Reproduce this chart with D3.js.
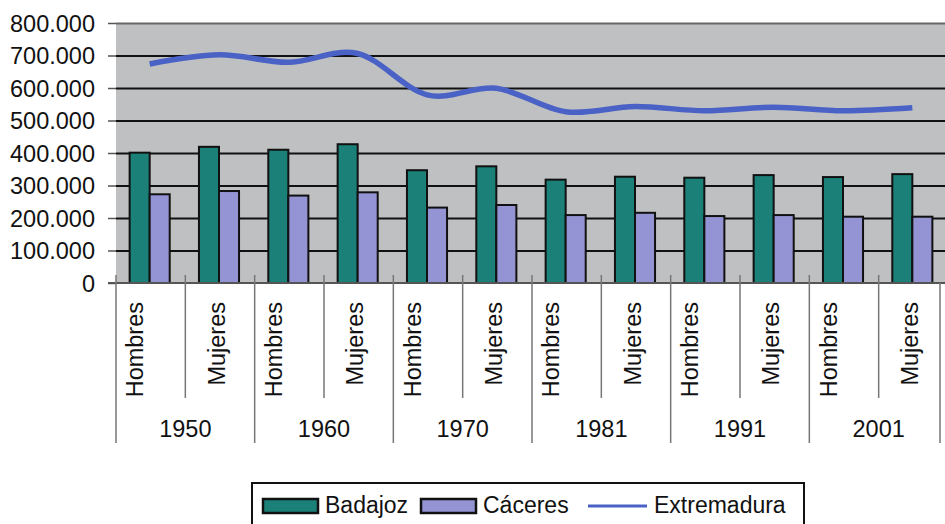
<!DOCTYPE html>
<html>
<head>
<meta charset="utf-8">
<script src="https://cdn.jsdelivr.net/npm/d3@7"></script>
<style>
  html, body { margin: 0; padding: 0; background: #ffffff; }
  svg { display: block; font-family: "Liberation Sans", Arial, sans-serif; }
</style>
</head>
<body>
<svg id="chart" width="945" height="524"></svg>
<script>
// ---- data ----
const years = ["1950", "1960", "1970", "1981", "1991", "2001"];
const sexes = ["Hombres", "Mujeres"];
const seriesNames = ["Badajoz", "Cáceres", "Extremadura"];
const badajoz = [401000, 419000, 410000, 427000, 347000, 359000, 318000, 327000, 324000, 332000, 326000, 335000];
const caceres = [273000, 283000, 269000, 279000, 232000, 240000, 209000, 216000, 206000, 209000, 204000, 204000];
const extremadura = [674000, 702000, 679000, 706000, 579000, 599000, 527000, 543000, 530000, 541000, 530000, 539000];
const yTicks = [0, 100000, 200000, 300000, 400000, 500000, 600000, 700000, 800000];

// ---- layout ----
const svg = d3.select("#chart");
const pLeft = 116, pRight = 948, pTop = 23, pBottom = 283;
const colors = { Badajoz: "#1b8078", "Cáceres": "#9494d4", Extremadura: "#4a62c6" };
const fs = 23.5;

const cats = [];
years.forEach(yr => sexes.forEach(s => cats.push({ year: yr, sex: s })));
const idx = d3.range(cats.length);

const x = d3.scaleBand().domain(idx).range([pLeft, pRight]).paddingInner(0).paddingOuter(0);
const xYear = d3.scaleBand().domain(years).range([pLeft, pRight]);
const y = d3.scaleLinear().domain([0, 800000]).range([pBottom, pTop]);
const xs = d3.scaleBand().domain(["Badajoz", "Cáceres"]).range([0, x.bandwidth()]).paddingInner(0).paddingOuter(0.73);

const loc = d3.formatLocale({ decimal: ",", thousands: ".", grouping: [3], currency: ["", ""] });
const fmt = loc.format(",");

// plot background
svg.append("rect").attr("x", pLeft).attr("y", pTop).attr("width", pRight - pLeft).attr("height", pBottom - pTop)
  .attr("fill", "#bfc0c2");

// gridlines
const grid = svg.append("g").attr("transform", `translate(${pLeft},0)`)
  .call(d3.axisLeft(y).tickValues(yTicks.filter(v => v > 0)).tickSize(-(pRight - pLeft)).tickFormat(""));
grid.select(".domain").remove();
grid.selectAll("line").attr("stroke", d => d === 800000 ? "#666" : "#111").attr("stroke-width", 2);

// y axis labels + ticks
const yAxis = svg.append("g").attr("transform", `translate(${pLeft},0)`)
  .call(d3.axisLeft(y).tickValues(yTicks).tickSize(8).tickPadding(13).tickFormat(fmt));
yAxis.select(".domain").remove();
yAxis.selectAll("line").attr("stroke", "#555").attr("stroke-width", 1.5);
yAxis.selectAll("text").attr("font-size", fs).attr("fill", "#111").attr("dy", "0.35em")
  .attr("font-family", "Liberation Sans, Arial, sans-serif");

// bars
const barData = [];
idx.forEach(i => {
  barData.push({ i, s: "Badajoz", v: badajoz[i] });
  barData.push({ i, s: "Cáceres", v: caceres[i] });
});
svg.append("g").selectAll("rect").data(barData).join("rect")
  .attr("x", d => x(d.i) + xs(d.s) - 1)
  .attr("y", d => y(d.v))
  .attr("width", xs.bandwidth())
  .attr("height", d => y(0) - y(d.v))
  .attr("fill", d => colors[d.s])
  .attr("stroke", "#111").attr("stroke-width", 2);

// line
const line = d3.line()
  .x((d, i) => x(i) + x.bandwidth() / 2 - 1)
  .y(d => y(d))
  .curve(d3.curveCatmullRom.alpha(0));
svg.append("path").datum(extremadura).attr("d", line)
  .attr("fill", "none").attr("stroke", colors.Extremadura).attr("stroke-width", 5.5)
  .attr("stroke-linecap", "butt");

// x axis line
svg.append("line").attr("x1", pLeft - 8).attr("x2", pRight).attr("y1", pBottom).attr("y2", pBottom)
  .attr("stroke", "#555").attr("stroke-width", 2);

// category separators
const sepG = svg.append("g").attr("stroke", "#777").attr("stroke-width", 1.5);
idx.forEach(i => {
  const xx = x(i);
  const isYear = i % 2 === 0;
  sepG.append("line").attr("x1", xx).attr("x2", xx)
    .attr("y1", pBottom - 8).attr("y2", isYear ? 443 : 398);
});
sepG.append("line").attr("x1", pRight - 8).attr("x2", pRight - 8).attr("y1", pBottom).attr("y2", 443);

// rotated category labels
svg.append("g").selectAll("text").data(idx).join("text")
  .attr("transform", i => {
    const c = x(i) + x.bandwidth() / 2;
    const bx = cats[i].sex === "Hombres" ? c - 7.5 : c + 4.5;
    return `translate(${bx},302) rotate(-90)`;
  })
  .attr("text-anchor", "end")
  .attr("font-size", fs).attr("fill", "#111")
  .text(i => cats[i].sex);

// year labels
svg.append("g").selectAll("text").data(years).join("text")
  .attr("x", d => xYear(d) + xYear.bandwidth() / 2)
  .attr("y", 437)
  .attr("text-anchor", "middle")
  .attr("font-size", fs).attr("fill", "#111")
  .text(d => d);

// legend
const lg = svg.append("g");
lg.append("rect").attr("x", 252).attr("y", 483).attr("width", 552).attr("height", 45)
  .attr("fill", "#fff").attr("stroke", "#111").attr("stroke-width", 2);
const legendItems = [
  { name: seriesNames[0], type: "bar", sx: 263, tx: 325 },
  { name: seriesNames[1], type: "bar", sx: 421, tx: 483 },
  { name: seriesNames[2], type: "line", sx: 588, tx: 654 }
];
legendItems.forEach(it => {
  if (it.type === "bar") {
    lg.append("rect").attr("x", it.sx).attr("y", 499).attr("width", 55).attr("height", 14)
      .attr("fill", colors[it.name]).attr("stroke", "#111").attr("stroke-width", 2.5);
  } else {
    lg.append("line").attr("x1", it.sx).attr("x2", it.sx + 59).attr("y1", 506).attr("y2", 506)
      .attr("stroke", colors[it.name]).attr("stroke-width", 3);
  }
  lg.append("text").attr("x", it.tx).attr("y", 513).attr("font-size", 23).attr("fill", "#111").text(it.name);
});
</script>
</body>
</html>
